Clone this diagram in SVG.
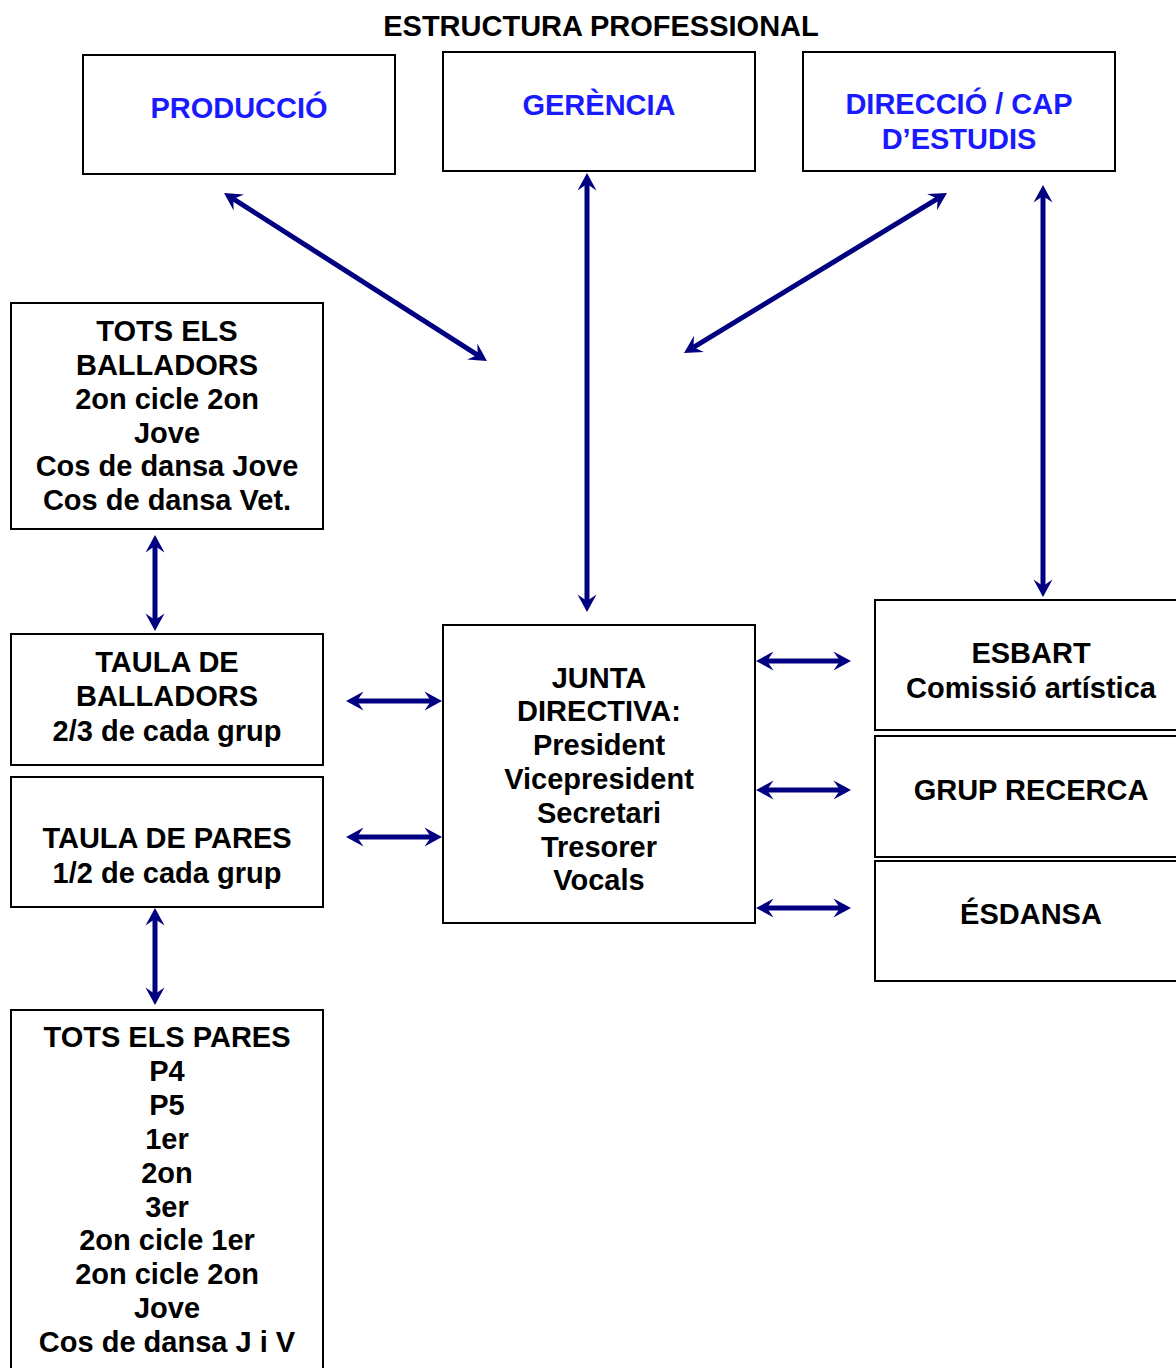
<svg xmlns="http://www.w3.org/2000/svg" width="1176" height="1368" viewBox="0 0 1176 1368">
<style>
.box{fill:#fff;stroke:#000;stroke-width:2}
text{font-family:"Liberation Sans",Arial,sans-serif;font-weight:bold;font-size:29px;text-anchor:middle;fill:#000}
.blue{fill:#1a1aff}
.conn{stroke:#000080;stroke-width:5;fill:none;marker-start:url(#ah);marker-end:url(#ah)}
</style>
<defs>
<marker id="ah" markerUnits="userSpaceOnUse" markerWidth="30" markerHeight="30" refX="0" refY="0" viewBox="-10 -15 30 30" orient="auto-start-reverse" overflow="visible">
<path d="M11,0 L-6.5,-9.5 L0,0 L-6.5,9.5 Z" fill="#000080"/>
</marker>
</defs>
<rect width="1176" height="1368" fill="#fff"/>
<text x="601" y="36">ESTRUCTURA PROFESSIONAL</text>

<g id="produccio"><rect class="box" x="83" y="55" width="312" height="119"/><text class="blue" x="239" y="118">PRODUCCIÓ</text></g>
<g id="gerencia"><rect class="box" x="443" y="52" width="312" height="119"/><text class="blue" x="599" y="115">GERÈNCIA</text></g>
<g id="direccio"><rect class="box" x="803" y="52" width="312" height="119"/><text class="blue" x="959" y="114">DIRECCIÓ / CAP</text><text class="blue" x="959" y="149">D’ESTUDIS</text></g>

<g id="tots-balladors"><rect class="box" x="11" y="303" width="312" height="226"/>
<text x="167" y="341">TOTS ELS</text><text x="167" y="375">BALLADORS</text><text x="167" y="409">2on cicle 2on</text><text x="167" y="443">Jove</text><text x="167" y="476">Cos de dansa Jove</text><text x="167" y="510">Cos de dansa Vet.</text></g>

<g id="taula-balladors"><rect class="box" x="11" y="634" width="312" height="131"/>
<text x="167" y="672">TAULA DE</text><text x="167" y="706">BALLADORS</text><text x="167" y="741">2/3 de cada grup</text></g>

<g id="taula-pares"><rect class="box" x="11" y="777" width="312" height="130"/>
<text x="167" y="848">TAULA DE PARES</text><text x="167" y="883">1/2 de cada grup</text></g>

<g id="tots-pares"><rect class="box" x="11" y="1010" width="312" height="400"/>
<text x="167" y="1047">TOTS ELS PARES</text><text x="167" y="1081">P4</text><text x="167" y="1115">P5</text><text x="167" y="1149">1er</text><text x="167" y="1183">2on</text><text x="167" y="1217">3er</text><text x="167" y="1250">2on cicle 1er</text><text x="167" y="1284">2on cicle 2on</text><text x="167" y="1318">Jove</text><text x="167" y="1352">Cos de dansa J i V</text></g>

<g id="junta"><rect class="box" x="443" y="625" width="312" height="298"/>
<text x="599" y="688">JUNTA</text><text x="599" y="721">DIRECTIVA:</text><text x="599" y="755">President</text><text x="599" y="789">Vicepresident</text><text x="599" y="823">Secretari</text><text x="599" y="857">Tresorer</text><text x="599" y="890">Vocals</text></g>

<g id="esbart"><rect class="box" x="875" y="600" width="320" height="130"/>
<text x="1031" y="663">ESBART</text><text x="1031" y="698">Comissió artística</text></g>
<g id="grup-recerca"><rect class="box" x="875" y="736" width="320" height="121"/>
<text x="1031" y="800">GRUP RECERCA</text></g>
<g id="esdansa"><rect class="box" x="875" y="861" width="320" height="120"/>
<text x="1031" y="924">ÉSDANSA</text></g>

<g id="connectors">
<line class="conn" x1="233.3" y1="198.9" x2="477.7" y2="355.1"/>
<line class="conn" x1="587" y1="184" x2="587" y2="601"/>
<line class="conn" x1="937.6" y1="198.7" x2="693.4" y2="347.3"/>
<line class="conn" x1="1043" y1="196" x2="1043" y2="586"/>
<line class="conn" x1="155" y1="546" x2="155" y2="620"/>
<line class="conn" x1="155" y1="919" x2="155" y2="994"/>
<line class="conn" x1="357" y1="701" x2="431" y2="701"/>
<line class="conn" x1="357" y1="837" x2="431" y2="837"/>
<line class="conn" x1="767" y1="661" x2="840" y2="661"/>
<line class="conn" x1="767" y1="790" x2="840" y2="790"/>
<line class="conn" x1="767" y1="908" x2="840" y2="908"/>
</g>
</svg>
